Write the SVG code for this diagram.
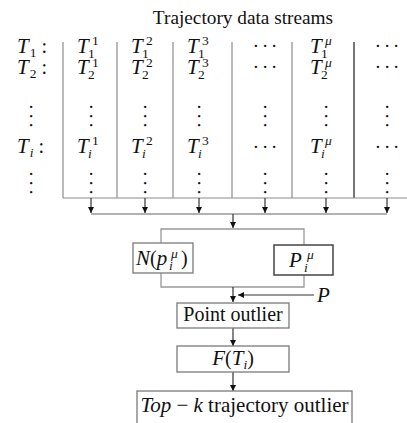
<svg xmlns="http://www.w3.org/2000/svg" width="407" height="423" viewBox="0 0 407 423">
<style>
text{font-family:"Liberation Serif","Times New Roman",serif;fill:#111}
.t{font-size:20px}
.m{font-size:21px;font-style:italic}
.s{font-size:13.5px}
.si{font-size:13.5px;font-style:italic}
.el{font-size:19px;letter-spacing:4.3px}
.grid{stroke:#8c8c8c;stroke-width:1.2;fill:none}
.box{fill:#fff;stroke:#7a7a7a;stroke-width:1.3}
.dark{stroke:#444;stroke-width:1.5}
.con{stroke:#999;stroke-width:1.3;fill:none}
.arr{stroke:#333;stroke-width:1.2;fill:none;marker-end:url(#ah)}
</style>
<defs>
<marker id="ah" markerUnits="userSpaceOnUse" markerWidth="7" markerHeight="7" refX="6" refY="3" orient="auto">
<path d="M0,0 L6,3 L0,6 z" fill="#111"/>
</marker>
</defs>
<rect width="407" height="423" fill="#fff"/>

<g id="title"><text x="243" y="24" text-anchor="middle" font-size="19.3">Trajectory data streams</text></g>

<g id="streams">
<g class="grid">
<line x1="63" y1="42" x2="63" y2="198"/>
<line x1="117" y1="42" x2="117" y2="198"/>
<line x1="173" y1="42" x2="173" y2="198"/>
<line x1="232" y1="42" x2="232" y2="198"/>
<line x1="292" y1="42" x2="292" y2="198"/>
<line x1="354" y1="42" x2="354" y2="198" stroke="#555" stroke-width="1.6"/>
<line x1="63" y1="198" x2="407" y2="198"/>
</g>
<!-- row labels -->
<text x="17" y="53"><tspan class="m">T</tspan><tspan class="s" dx="1" dy="4">1</tspan><tspan class="t" dy="-4"> :</tspan></text>
<text x="17" y="74"><tspan class="m">T</tspan><tspan class="s" dx="1" dy="4">2</tspan><tspan class="t" dy="-4"> :</tspan></text>
<text x="17" y="153"><tspan class="m">T</tspan><tspan class="si" dx="1" dy="4">i</tspan><tspan class="t" dy="-4"> :</tspan></text>
<text class="el" transform="translate(31,116) rotate(90)" x="-11.4" y="1.3">...</text>
<text class="el" transform="translate(31,183) rotate(90)" x="-11.4" y="1.3">...</text>

<!-- column 1 -->
<text class="m" x="77" y="53">T</text><text class="s" x="92" y="45">1</text><text class="s" x="88" y="57.5">1</text>
<text class="m" x="77" y="74">T</text><text class="s" x="92" y="66.5">1</text><text class="s" x="88" y="79">2</text>
<text class="m" x="77" y="153">T</text><text class="s" x="92" y="145">1</text><text class="si" x="88" y="158">i</text>
<!-- column 2 -->
<text class="m" x="131" y="53">T</text><text class="s" x="146" y="45">2</text><text class="s" x="142" y="57.5">1</text>
<text class="m" x="131" y="74">T</text><text class="s" x="146" y="66.5">2</text><text class="s" x="142" y="79">2</text>
<text class="m" x="131" y="153">T</text><text class="s" x="146" y="145">2</text><text class="si" x="142" y="158">i</text>
<!-- column 3 -->
<text class="m" x="187" y="53">T</text><text class="s" x="202" y="45">3</text><text class="s" x="198" y="57.5">1</text>
<text class="m" x="187" y="74">T</text><text class="s" x="202" y="66.5">3</text><text class="s" x="198" y="79">2</text>
<text class="m" x="187" y="153">T</text><text class="s" x="202" y="145">3</text><text class="si" x="198" y="158">i</text>
<!-- column mu -->
<text class="m" x="310" y="53">T</text><text class="si" x="325" y="45">μ</text><text class="s" x="321" y="57.5">1</text>
<text class="m" x="310" y="74">T</text><text class="si" x="325" y="66.5">μ</text><text class="s" x="321" y="79">2</text>
<text class="m" x="310" y="153">T</text><text class="si" x="325" y="145">μ</text><text class="si" x="321" y="158">i</text>
<!-- horizontal ellipses -->
<text class="el" x="253.6" y="47.3">...</text><text class="el" x="253.6" y="68.3">...</text><text class="el" x="253.6" y="148.3">...</text>
<text class="el" x="375.6" y="47.3">...</text><text class="el" x="375.6" y="68.3">...</text><text class="el" x="375.6" y="148.3">...</text>
<!-- vertical ellipses in columns -->
<text class="el" transform="translate(91,116) rotate(90)" x="-11.4" y="1.3">...</text>
<text class="el" transform="translate(145,116) rotate(90)" x="-11.4" y="1.3">...</text>
<text class="el" transform="translate(199,116) rotate(90)" x="-11.4" y="1.3">...</text>
<text class="el" transform="translate(265,116) rotate(90)" x="-11.4" y="1.3">...</text>
<text class="el" transform="translate(326,116) rotate(90)" x="-11.4" y="1.3">...</text>
<text class="el" transform="translate(387,116) rotate(90)" x="-11.4" y="1.3">...</text>
<text class="el" transform="translate(91,183) rotate(90)" x="-11.4" y="1.3">...</text>
<text class="el" transform="translate(145,183) rotate(90)" x="-11.4" y="1.3">...</text>
<text class="el" transform="translate(199,183) rotate(90)" x="-11.4" y="1.3">...</text>
<text class="el" transform="translate(265,183) rotate(90)" x="-11.4" y="1.3">...</text>
<text class="el" transform="translate(326,183) rotate(90)" x="-11.4" y="1.3">...</text>
<text class="el" transform="translate(387,183) rotate(90)" x="-11.4" y="1.3">...</text>
</g>

<g id="connectors">
<line class="arr" x1="91" y1="198" x2="91" y2="213"/>
<line class="arr" x1="145" y1="198" x2="145" y2="213"/>
<line class="arr" x1="199" y1="198" x2="199" y2="213"/>
<line class="arr" x1="265" y1="198" x2="265" y2="213"/>
<line class="arr" x1="326" y1="198" x2="326" y2="213"/>
<line class="arr" x1="387" y1="198" x2="387" y2="213"/>
<line class="con" x1="91" y1="214" x2="387" y2="214"/>
<line class="arr" x1="233" y1="214" x2="233" y2="228"/>
<polyline class="con" points="161,243 161,229 304,229 304,245"/>
<polyline class="con" points="161,273 161,287 304,287 304,275"/>
<line class="arr" x1="233" y1="287" x2="233" y2="302"/>
<line class="arr" x1="314" y1="295" x2="238" y2="295"/>
<line class="arr" x1="233" y1="328" x2="233" y2="346"/>
<line class="arr" x1="233" y1="372" x2="233" y2="391"/>
</g>

<g id="node-N">
<rect class="box" x="133" y="243" width="60" height="30"/>
<text x="136" y="265"><tspan class="m">N</tspan><tspan class="t">(</tspan><tspan class="m">p</tspan></text>
<text class="si" x="171" y="258">μ</text><text class="si" x="169" y="270">i</text>
<text class="t" x="181" y="265">)</text>
</g>

<g id="node-P">
<rect class="box dark" x="274" y="245" width="59" height="30"/>
<text class="m" x="289" y="267">P</text>
<text class="si" x="307" y="259">μ</text><text class="si" x="304" y="272">i</text>
</g>

<g id="label-P"><text class="m" x="317" y="302">P</text></g>

<g id="node-point">
<rect class="box" x="177" y="303" width="112" height="25"/>
<text class="t" x="233" y="321" text-anchor="middle">Point outlier</text>
</g>

<g id="node-F">
<rect class="box" x="177" y="346" width="112" height="26"/>
<text x="233" y="365" text-anchor="middle"><tspan class="m">F</tspan><tspan class="t">(</tspan><tspan class="m">T</tspan><tspan class="si" dy="4">i</tspan><tspan class="t" dy="-4">)</tspan></text>
</g>

<g id="node-topk">
<rect class="box" x="137" y="391" width="215" height="40"/>
<text x="244.5" y="412" text-anchor="middle" font-size="21"><tspan font-style="italic">Top</tspan><tspan> − </tspan><tspan font-style="italic">k</tspan><tspan> trajectory outlier</tspan></text>
</g>
</svg>
